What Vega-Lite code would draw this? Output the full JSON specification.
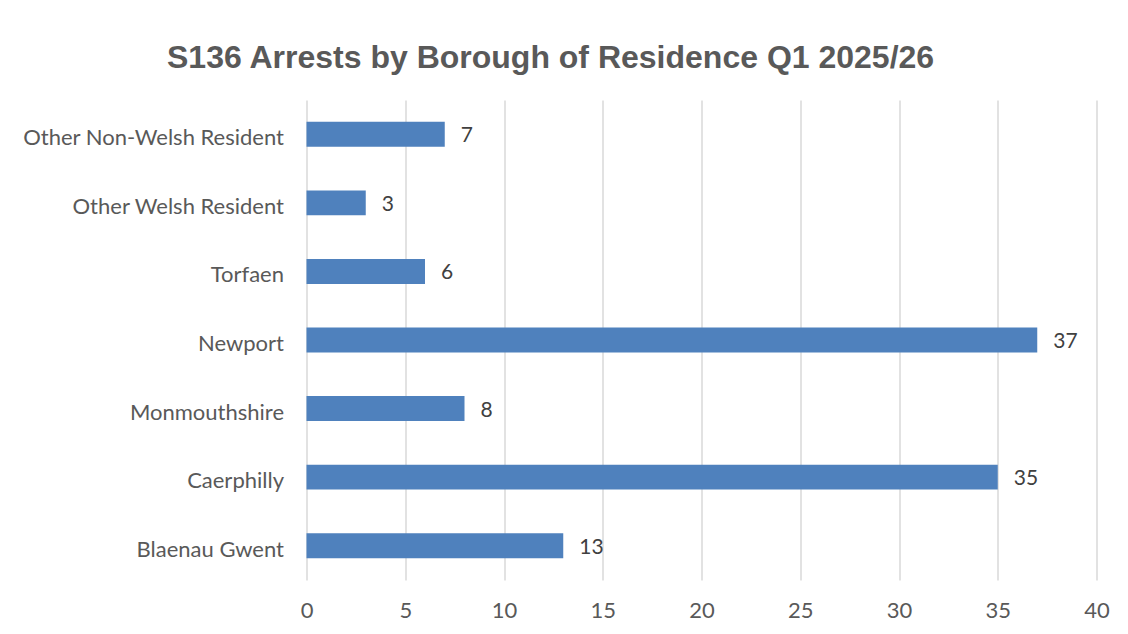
{
  "$schema": "https://vega.github.io/schema/vega-lite/v6.json",
  "autosize": {"type": "none"},
  "padding": {"left": 306.5, "top": 100, "right": 31.5, "bottom": 54},
  "width": 790,
  "height": 480,
  "background": "white",
  "title": {
    "text": "S136 Arrests by Borough of Residence Q1 2025/26",
    "font": "Liberation Sans",
    "fontSize": 32,
    "fontWeight": "bold",
    "color": "#595959",
    "anchor": "start",
    "frame": "group",
    "baseline": "alphabetic",
    "offset": 0,
    "dx": -139.5
  },
  "data": {
    "values": [
      {"borough": "Other Non-Welsh Resident", "arrests": 7},
      {"borough": "Other Welsh Resident", "arrests": 3},
      {"borough": "Torfaen", "arrests": 6},
      {"borough": "Newport", "arrests": 37},
      {"borough": "Monmouthshire", "arrests": 8},
      {"borough": "Caerphilly", "arrests": 35},
      {"borough": "Blaenau Gwent", "arrests": 13}
    ]
  },
  "encoding": {
    "y": {
      "field": "borough",
      "type": "nominal",
      "sort": null,
      "scale": {"paddingInner": 0.636, "paddingOuter": 0.318},
      "axis": {
        "title": null,
        "domain": false,
        "ticks": false,
        "labelFont": "Lato",
        "labelFontSize": 22,
        "labelColor": "#595959",
        "labelPadding": 23,
        "labelOffset": 4,
        "labelLimit": 400
      }
    },
    "x": {
      "field": "arrests",
      "type": "quantitative",
      "scale": {"domain": [0, 40], "nice": false},
      "axis": {
        "title": null,
        "values": [0, 5, 10, 15, 20, 25, 30, 35, 40],
        "domain": false,
        "ticks": false,
        "grid": true,
        "gridColor": "#d9d9d9",
        "gridWidth": 1.5,
        "labelFlush": false,
        "labelFont": "Lato",
        "labelFontSize": 22,
        "labelColor": "#595959",
        "labelPadding": 20
      }
    }
  },
  "layer": [
    {"mark": {"type": "bar", "color": "#4F81BD"}},
    {
      "mark": {"type": "text", "align": "left", "baseline": "middle", "dx": 16, "dy": 2, "font": "Lato", "fontSize": 21, "color": "#404040"},
      "encoding": {"text": {"field": "arrests", "type": "quantitative"}}
    }
  ],
  "config": {"view": {"stroke": null}}
}
